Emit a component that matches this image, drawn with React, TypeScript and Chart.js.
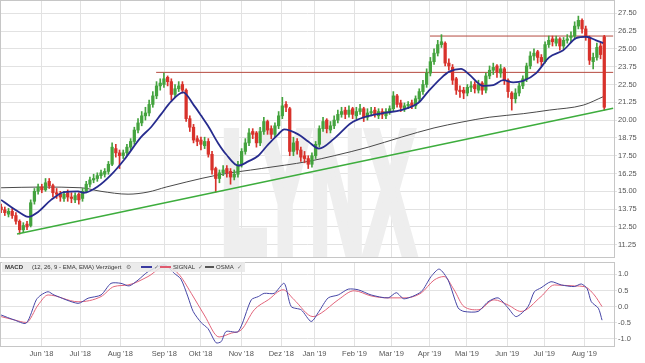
import React, { useEffect, useRef } from "react";
import { Chart, registerables } from "chart.js";

Chart.register(...registerables);

const FONT = '"Liberation Sans", Arial, Helvetica, sans-serif';

// x unit: one candle = 2 trading sessions
const MONTH_LABELS = ["Jun '18", "Jul '18", "Aug '18", "Sep '18", "Okt '18", "Nov '18", "Dez '18", "Jan '19", "Feb '19", "Mar '19", "Apr '19", "Mai '19", "Jun '19", "Jul '19", "Aug '19"];
const MONTH_POS = [10.9, 21.4, 32.2, 44.1, 53.9, 64.9, 75.7, 84.7, 95.5, 105.5, 115.8, 125.9, 136.8, 146.8, 157.6];
const PRICE_TICKS = [11.25, 12.5, 13.75, 15, 16.25, 17.5, 18.75, 20, 21.25, 22.5, 23.75, 25, 26.25, 27.5];
const MACD_TICKS = [-1, -0.5, 0, 0.5, 1];

const OPEN = [
  13.9, 13.7, 13.4, 13.6, 13.3, 12.9, 12.3, 12.7, 12.6, 14.3,
  15.0, 15.3, 15.1, 15.7, 15.4, 14.9, 14.8, 14.5, 14.9, 14.6,
  14.4, 14.8, 14.5, 15.0, 15.5, 15.8, 15.9, 16.1, 16.2, 16.4,
  16.9, 18.0, 17.7, 17.5, 17.7, 18.1, 18.5, 19.3, 19.8, 20.3,
  20.5, 21.1, 21.7, 22.4, 22.5, 23.0, 22.7, 21.8, 22.2, 22.5,
  22.1, 20.1, 19.5, 18.7, 18.6, 18.2, 18.5, 17.6, 16.6, 15.9,
  16.3, 16.6, 16.4, 16.0, 16.2, 16.9, 17.8, 18.4, 19.2, 19.1,
  18.4, 19.2, 19.9, 19.4, 19.0, 19.6, 20.3, 21.1, 20.8, 17.8,
  18.5, 17.9, 17.5, 17.3, 16.9, 17.5, 18.3, 19.4, 20.0, 19.3,
  19.6, 20.0, 20.4, 20.7, 20.4, 20.8, 20.3, 20.6, 20.8, 20.2,
  20.5, 20.7, 20.3, 20.6, 20.3, 20.6, 20.8, 21.7, 21.2, 20.8,
  21.0, 21.2, 21.0, 21.5, 22.0, 22.5, 23.3, 24.1, 24.7, 25.3,
  25.4, 24.0, 23.7, 22.9, 22.1, 22.1, 21.9, 22.3, 22.5, 22.1,
  22.6, 22.1, 23.1, 23.5, 23.8, 23.3, 23.6, 22.8, 21.9, 21.5,
  21.9, 22.4, 22.9, 23.8, 24.5, 24.8, 24.4, 24.1, 25.3, 25.7,
  25.4, 25.7, 25.2, 25.6, 25.8, 25.9, 26.6, 27.0, 26.4, 25.8,
  24.1, 24.4, 25.2, 25.85,
];
const HIGH = [
  14.1, 13.9, 13.8, 13.8, 13.5, 13.0, 12.8, 12.9, 14.4, 15.2,
  15.5, 15.5, 15.9, 15.9, 15.5, 15.2, 15.0, 15.0, 15.1, 14.9,
  14.9, 14.9, 15.2, 15.7, 16.0, 16.2, 16.3, 16.5, 16.6, 17.1,
  18.4, 18.3, 17.9, 17.9, 18.3, 18.7, 19.5, 20.1, 20.6, 20.9,
  21.4, 22.0, 22.7, 22.9, 23.3, 23.1, 22.9, 22.5, 22.7, 22.7,
  22.2, 20.3, 19.7, 18.9, 18.8, 18.8, 18.7, 17.8, 16.7, 16.5,
  16.8, 16.8, 16.6, 16.5, 17.1, 18.0, 18.7, 19.4, 19.4, 19.2,
  19.5, 20.2, 20.0, 19.6, 19.8, 20.6, 21.6, 21.3, 20.9, 18.8,
  18.7, 18.1, 17.8, 17.5, 17.7, 18.5, 19.6, 20.2, 20.1, 19.9,
  20.3, 20.7, 20.9, 20.9, 21.0, 20.9, 20.9, 21.1, 20.9, 20.8,
  20.9, 20.9, 20.8, 20.8, 20.8, 21.0, 22.0, 21.8, 21.4, 21.2,
  21.3, 21.4, 21.7, 22.2, 22.8, 23.6, 24.4, 25.0, 25.6, 26.0,
  25.5, 24.3, 23.9, 23.0, 22.4, 22.3, 22.5, 22.7, 22.7, 22.8,
  22.7, 23.3, 23.8, 24.0, 23.9, 23.9, 23.7, 22.9, 22.0, 22.2,
  22.6, 23.1, 24.0, 24.8, 25.0, 24.9, 24.6, 25.5, 25.9, 25.9,
  25.9, 25.8, 25.8, 26.0, 26.2, 26.9, 27.3, 27.1, 26.6, 25.9,
  24.7, 25.4, 25.4, 25.95,
];
const LOW = [
  13.5, 13.3, 13.2, 13.1, 12.7, 12.0, 12.1, 12.3, 12.5, 14.1,
  14.8, 14.9, 15.0, 15.2, 14.6, 14.5, 14.3, 14.3, 14.3, 14.2,
  14.2, 14.1, 14.3, 14.9, 15.3, 15.6, 15.7, 15.9, 16.0, 16.2,
  16.8, 17.4, 16.6, 17.3, 17.5, 17.9, 18.3, 19.1, 19.6, 20.0,
  20.3, 20.9, 21.5, 22.1, 22.3, 22.4, 21.4, 21.6, 22.0, 21.9,
  19.9, 19.2, 18.4, 18.2, 17.9, 18.0, 17.4, 16.2, 14.95, 15.6,
  16.1, 16.0, 15.5, 15.8, 16.0, 16.7, 17.6, 18.2, 18.7, 18.1,
  18.2, 19.0, 19.0, 18.7, 18.8, 19.4, 20.1, 20.6, 17.5, 17.5,
  17.6, 17.1, 17.0, 16.6, 16.7, 17.3, 18.1, 19.2, 19.1, 19.1,
  19.4, 19.8, 20.2, 20.1, 20.2, 20.1, 20.1, 20.4, 19.9, 20.0,
  20.3, 20.2, 20.1, 20.1, 20.1, 20.4, 20.6, 20.9, 20.6, 20.6,
  20.8, 20.8, 20.8, 21.3, 21.8, 22.3, 23.1, 23.9, 24.5, 25.1,
  23.8, 23.5, 22.5, 21.8, 21.6, 21.5, 21.7, 22.0, 21.9, 21.9,
  21.8, 21.9, 22.9, 23.2, 23.0, 23.0, 22.5, 21.6, 20.7, 21.2,
  21.7, 22.2, 22.7, 23.6, 24.2, 24.0, 23.8, 24.0, 25.1, 25.2,
  25.2, 24.9, 25.0, 25.4, 25.5, 25.7, 26.4, 26.1, 25.6, 23.9,
  23.6, 24.2, 24.3, 20.7,
];
const CLOSE = [
  13.7, 13.5, 13.6, 13.3, 12.9, 12.3, 12.6, 12.5, 14.2, 15.0,
  15.3, 15.1, 15.6, 15.4, 14.9, 14.8, 14.6, 14.8, 14.6, 14.5,
  14.7, 14.4, 15.0, 15.5, 15.8, 15.9, 16.1, 16.3, 16.4, 16.9,
  18.1, 17.7, 17.5, 17.7, 18.1, 18.5, 19.3, 19.8, 20.3, 20.5,
  21.1, 21.7, 22.4, 22.6, 22.9, 22.7, 21.8, 22.2, 22.4, 22.1,
  20.1, 19.5, 18.6, 18.5, 18.3, 18.5, 17.6, 16.5, 15.9, 16.3,
  16.5, 16.3, 16.0, 16.2, 16.9, 17.8, 18.4, 19.1, 19.0, 18.4,
  19.2, 19.9, 19.3, 19.0, 19.6, 20.3, 21.0, 20.9, 17.8, 18.4,
  17.9, 17.4, 17.3, 16.9, 17.5, 18.3, 19.4, 19.9, 19.4, 19.6,
  20.0, 20.4, 20.6, 20.4, 20.7, 20.4, 20.6, 20.8, 20.2, 20.5,
  20.6, 20.4, 20.6, 20.4, 20.6, 20.8, 21.7, 21.1, 20.9, 21.0,
  21.1, 21.0, 21.5, 22.0, 22.5, 23.3, 24.1, 24.7, 25.3, 25.5,
  24.0, 23.8, 22.8, 22.1, 22.0, 21.9, 22.3, 22.4, 22.2, 22.5,
  22.1, 23.1, 23.5, 23.7, 23.4, 23.6, 22.8, 22.0, 21.5, 21.9,
  22.4, 22.9, 23.8, 24.5, 24.7, 24.4, 24.1, 25.3, 25.6, 25.5,
  25.7, 25.2, 25.6, 25.7, 25.9, 26.6, 27.0, 26.4, 25.9, 24.2,
  24.4, 25.1, 24.6, 20.9,
];

const EMA_X = [0, 2.7, 5.4, 7.3, 10, 13.5, 17, 20.8, 22.4, 26.2, 29.7, 33.2, 37.8, 40.5, 43.2, 45.9, 49.2, 52.2, 54.1, 55.9, 58.6, 60.8, 64.1, 66.8, 69.5, 72.2, 74.9, 76.5, 80.3, 83, 85.9, 90, 94.6, 98.1, 103.5, 108.1, 112.7, 115.4, 118.9, 121.1, 124.3, 126.5, 130.3, 133, 135.7, 138.4, 141.1, 144.6, 148.1, 151.9, 155.4, 158.1, 160.8, 162.7];
const EMA_Y = [14.4, 13.9, 13.45, 13.2, 13.55, 14.4, 14.95, 15.0, 14.9, 15.35, 16.15, 17.2, 18.8, 19.5, 20.4, 21.3, 21.95, 21.0, 20.3, 19.6, 18.4, 17.6, 16.8, 17.1, 17.5, 18.3, 19.0, 19.35, 19.0, 18.5, 18.0, 18.7, 19.8, 20.2, 20.5, 20.7, 21.2, 22.0, 22.95, 23.4, 23.6, 23.2, 22.4, 22.45, 22.8, 22.65, 22.75, 23.3, 24.4, 24.9, 25.75, 25.85, 25.6, 25.4];

const SMA_X = [0, 10.8, 21.6, 27, 34.3, 39.7, 44.6, 50, 58.6, 70.3, 83, 90, 99.2, 108.1, 117, 124.3, 131.9, 141.1, 148.1, 157.3, 162.7];
const SMA_Y = [15.25, 15.3, 15.25, 15.0, 14.8, 14.95, 15.3, 15.65, 16.15, 16.6, 17.1, 17.5, 18.1, 18.8, 19.45, 19.85, 20.2, 20.45, 20.7, 21.05, 21.64];

const TREND_X = [4.3, 165.4];
const TREND_Y = [12.0, 20.83];
const RES_LOW_X = [41.9, 165.4];
const RES_LOW_Y = [23.35, 23.35];
const RES_HIGH_X = [115.9, 165.4];
const RES_HIGH_Y = [25.9, 25.9];

const MACD_X = [0, 3.5, 6.8, 9.5, 10.8, 12.7, 14.3, 20.8, 23.5, 27, 29.7, 32.4, 34.6, 37, 39.7, 44.1, 46.8, 48.6, 50.5, 51.9, 54.1, 55.9, 58.1, 59.5, 60.8, 64.1, 67.6, 69.5, 71.1, 73.8, 76.5, 78.4, 81.1, 83.8, 85.9, 88.4, 91.1, 93.8, 96.5, 100, 104.6, 106.8, 108.9, 113.5, 116.2, 118.4, 120.8, 123.5, 125.1, 128.9, 131.6, 134.3, 137, 139.2, 142.4, 144.1, 145.9, 148.6, 151.4, 154.9, 156.8, 158.4, 159.5, 161.4, 162.4];
const MACD_Y = [-0.26, -0.41, -0.51, 0.21, 0.36, 0.46, 0.36, 0.1, 0.26, 0.36, 0.72, 0.72, 0.64, 0.82, 1.08, 1.29, 1.03, 0.85, 0.3, -0.15, -0.5, -0.68, -1.12, -1.08, -0.77, -0.77, 0.21, 0.31, 0.41, 0.41, 0.72, 0.0, -0.1, -0.46, -0.15, 0.27, 0.36, 0.54, 0.52, 0.36, 0.27, 0.43, 0.24, 0.46, 0.93, 1.16, 0.82, -0.04, -0.15, -0.15, 0.15, 0.27, -0.04, -0.31, 0.0, 0.46, 0.58, 0.77, 0.67, 0.62, 0.7, 0.55, 0.15, -0.05, -0.42];

const SIGNAL_X = [0, 3.5, 6.8, 10, 12.7, 20.8, 27, 30.5, 34.3, 39.7, 44.1, 47.8, 51.4, 54.9, 58.9, 62.2, 64.9, 68.4, 72.2, 76.2, 79.2, 84.3, 86.5, 91.1, 95.4, 100, 104.6, 108.9, 113.5, 117, 119.7, 122.4, 125.1, 128.9, 133.2, 137, 140.5, 145.9, 149.5, 154.9, 157.6, 160.3, 162.4];
const SIGNAL_Y = [-0.31, -0.41, -0.49, 0.05, 0.36, 0.15, 0.31, 0.62, 0.67, 0.93, 1.23, 1.03, 0.41, -0.26, -0.94, -0.82, -0.72, -0.1, 0.21, 0.52, 0.21, -0.31, -0.2, 0.21, 0.49, 0.33, 0.27, 0.27, 0.42, 0.82, 0.93, 0.52, 0.0, -0.1, 0.21, 0.05, -0.15, 0.31, 0.67, 0.64, 0.62, 0.36, 0.0];

const X_MIN = -0.3;
const X_MAX = 165.9;
const GRID = "#e2e2e2";
const FRAME = "#c6c6c6";
const LABEL = "#555555";
const UP = "#44a33e";
const DOWN = "#d8322b";

const pts = (xs: number[], ys: number[]) => xs.map((x, i) => ({ x, y: ys[i] }));

const framePlugin = {
  id: "frame",
  afterDatasetsDraw(chart: any) {
    const { ctx, chartArea } = chart;
    ctx.save();
    ctx.strokeStyle = FRAME;
    ctx.lineWidth = 1;
    ctx.strokeRect(chartArea.left + 0.5, chartArea.top + 0.5, chartArea.width - 1, chartArea.height - 1);
    ctx.restore();
  },
};

const watermarkPlugin = {
  id: "watermark",
  beforeDatasetsDraw(chart: any) {
    const { ctx, chartArea } = chart;
    ctx.save();
    ctx.beginPath();
    ctx.rect(chartArea.left, chartArea.top, chartArea.width, chartArea.height);
    ctx.clip();
    ctx.font = `bold 172px ${FONT}`;
    const w = ctx.measureText("LYNX").width;
    ctx.translate(chartArea.left + 221, chartArea.top + 252);
    ctx.scale(194 / w, 1);
    ctx.fillStyle = "#eeeeee";
    ctx.strokeStyle = "#eeeeee";
    ctx.lineWidth = 10;
    ctx.lineJoin = "miter";
    ctx.fillText("LYNX", 0, 0);
    ctx.strokeText("LYNX", 0, 0);
    ctx.restore();
  },
};

function monthTicks(scale: any) {
  scale.ticks = MONTH_POS.map((v) => ({ value: v }));
}

export default function App() {
  const mainRef = useRef<HTMLCanvasElement | null>(null);
  const macdRef = useRef<HTMLCanvasElement | null>(null);

  useEffect(() => {
    Chart.defaults.font.family = FONT;
    const colors = CLOSE.map((c, i) => (c >= OPEN[i] ? UP : DOWN));
    const bodies = CLOSE.map((c, i) => ({ x: i, y: [OPEN[i], c] }));
    const wicks = CLOSE.map((_c, i) => ({ x: i, y: [LOW[i], HIGH[i]] }));

    const main = new Chart(mainRef.current as HTMLCanvasElement, {
      type: "bar",
      data: {
        datasets: [
          { type: "line", label: "EMA", data: pts(EMA_X, EMA_Y), borderColor: "#272c8e", borderWidth: 1.8, pointRadius: 0, cubicInterpolationMode: "monotone", order: 0 } as any,
          { type: "line", label: "Trend", data: pts(TREND_X, TREND_Y), borderColor: "#3dad3d", borderWidth: 1.5, pointRadius: 0, order: 1 } as any,
          { type: "bar", label: "Body", data: bodies, backgroundColor: colors, barThickness: 2.6, grouped: false, minBarLength: 1, borderWidth: 0, order: 2 } as any,
          { type: "bar", label: "Wick", data: wicks, backgroundColor: colors, barThickness: 1, grouped: false, borderWidth: 0, order: 3 } as any,
          { type: "line", label: "SMA", data: pts(SMA_X, SMA_Y), borderColor: "#4a4a4a", borderWidth: 1, pointRadius: 0, cubicInterpolationMode: "monotone", order: 4 } as any,
          { type: "line", label: "R1", data: pts(RES_LOW_X, RES_LOW_Y), borderColor: "#b5493f", borderWidth: 1, pointRadius: 0, order: 5 } as any,
          { type: "line", label: "R2", data: pts(RES_HIGH_X, RES_HIGH_Y), borderColor: "#b5493f", borderWidth: 1, pointRadius: 0, order: 5 } as any,
        ],
      },
      options: {
        responsive: false,
        animation: false,
        events: [],
        layout: { padding: 0, autoPadding: false } as any,
        plugins: { legend: { display: false }, tooltip: { enabled: false } },
        scales: {
          x: {
            type: "linear",
            min: X_MIN,
            max: X_MAX,
            offset: false,
            afterBuildTicks: monthTicks,
            afterFit: (s: any) => { s.height = 1; s.paddingLeft = 0; s.paddingRight = 0; },
            ticks: { display: false },
            grid: { color: GRID, drawTicks: false, offset: false },
            border: { display: false },
          },
          y: {
            type: "linear",
            position: "right",
            min: 10.32,
            max: 28.43,
            afterBuildTicks: (s: any) => { s.ticks = PRICE_TICKS.map((v) => ({ value: v })); },
            afterFit: (s: any) => { s.width = 30; s.paddingTop = 0; s.paddingBottom = 0; },
            ticks: { callback: (v: any) => Number(v).toFixed(2), font: { size: 7.5 }, color: LABEL, padding: 1 },
            grid: { color: GRID, drawTicks: true, tickLength: 2 },
            border: { display: false },
          },
        },
      } as any,
      plugins: [watermarkPlugin, framePlugin],
    });

    const macd = new Chart(macdRef.current as HTMLCanvasElement, {
      type: "line",
      data: {
        datasets: [
          { label: "MACD", data: pts(MACD_X, MACD_Y), borderColor: "#4646a6", borderWidth: 1, pointRadius: 0, tension: 0.25 },
          { label: "SIGNAL", data: pts(SIGNAL_X, SIGNAL_Y), borderColor: "#e2647a", borderWidth: 1, pointRadius: 0, cubicInterpolationMode: "monotone" },
        ],
      },
      options: {
        responsive: false,
        animation: false,
        events: [],
        layout: { padding: { top: 3, left: 0, right: 0, bottom: 0 }, autoPadding: false } as any,
        plugins: { legend: { display: false }, tooltip: { enabled: false } },
        scales: {
          x: {
            type: "linear",
            min: X_MIN,
            max: X_MAX,
            afterBuildTicks: monthTicks,
            afterFit: (s: any) => { s.height = 16; s.paddingLeft = 0; s.paddingRight = 0; },
            ticks: {
              autoSkip: false,
              maxRotation: 0,
              callback: (_v: any, i: number) => MONTH_LABELS[i],
              font: { size: 7.5 },
              color: LABEL,
              padding: 2,
            },
            grid: { color: GRID, drawTicks: false },
            border: { display: false },
          },
          y: {
            type: "linear",
            position: "right",
            min: -1.25,
            max: 1.38,
            afterBuildTicks: (s: any) => { s.ticks = MACD_TICKS.map((v) => ({ value: v })); },
            afterFit: (s: any) => { s.width = 30; s.paddingTop = 0; s.paddingBottom = 0; },
            ticks: { callback: (v: any) => Number(v).toFixed(1), font: { size: 7.5 }, color: LABEL, padding: 1 },
            grid: { color: GRID, drawTicks: true, tickLength: 2 },
            border: { display: false },
          },
        },
      } as any,
      plugins: [framePlugin],
    });

    return () => {
      main.destroy();
      macd.destroy();
    };
  }, []);

  const txt: React.CSSProperties = { position: "absolute", top: 0, lineHeight: "10px", whiteSpace: "nowrap" };
  const line = (left: number, width: number, color: string): React.CSSProperties => ({
    position: "absolute", left, top: 4, width, height: 1.5, background: color,
  });

  return (
    <div style={{ position: "absolute", left: 0, top: 0, width: 645, height: 363, background: "#fff", overflow: "hidden" }}>
      <canvas ref={mainRef} width={645} height={259} style={{ position: "absolute", left: 0, top: 0, display: "block" }} />
      <canvas ref={macdRef} width={645} height={104} style={{ position: "absolute", left: 0, top: 259, display: "block" }} />
      <div style={{ position: "absolute", left: 2, top: 262, width: 243, height: 10, background: "rgba(232,232,232,0.85)", fontFamily: FONT, fontSize: 6, color: "#333" }}>
        <span style={{ ...txt, left: 3, fontWeight: "bold" }}>MACD</span>
        <span style={{ ...txt, left: 30 }}>(12, 26, 9 - EMA, EMA) Verzögert</span>
        <span style={{ ...txt, left: 124, color: "#777" }}>⚙</span>
        <span style={line(139, 11, "#3a3aa0")} />
        <span style={{ ...txt, left: 152, color: "#777" }}>✓</span>
        <span style={line(158, 11, "#e05a6e")} />
        <span style={{ ...txt, left: 171 }}>SIGNAL</span>
        <span style={{ ...txt, left: 196, color: "#777" }}>✓</span>
        <span style={line(203, 9, "#555")} />
        <span style={{ ...txt, left: 214 }}>OSMA</span>
        <span style={{ ...txt, left: 235, color: "#777" }}>✓</span>
      </div>
    </div>
  );
}
